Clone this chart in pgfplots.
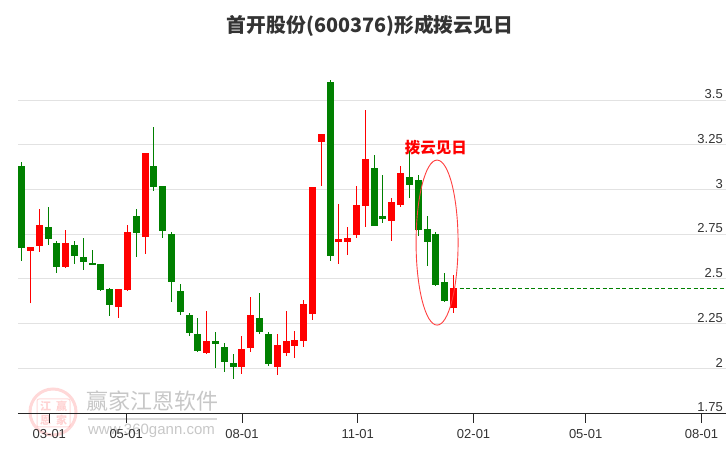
\documentclass[border=0pt]{standalone}
\usepackage{pgfplots}
\pgfplotsset{compat=1.18}
\usepackage{pgfplotstable}
\usepackage{fontspec}
\setmainfont{Liberation Sans}
\newfontfamily\cjk{Noto Sans CJK SC}
\definecolor{cred}{RGB}{255,0,0}
\definecolor{cgreen}{RGB}{0,128,0}
\definecolor{txt}{RGB}{51,51,51}
\definecolor{gridc}{RGB}{226,226,226}

% x = day offset from 03-01; o h l c
\pgfplotstableread{
x o h l c
-15 2.658 2.676 2.363 2.676
-8 2.686 2.891 2.652 2.801
13 2.568 2.773 2.563 2.701
55 2.345 2.443 2.283 2.443
62 2.440 2.801 2.434 2.762
76 2.736 3.204 2.641 3.204
125 2.087 2.322 2.082 2.153
153 2.009 2.181 1.970 2.108
160 2.115 2.399 2.093 2.298
181 2.009 2.192 1.964 2.130
188 2.087 2.322 2.071 2.153
195 2.127 2.209 2.059 2.158
202 2.155 2.382 2.121 2.360
209 2.305 3.014 2.272 3.014
216 3.268 3.310 3.021 3.310
230 2.708 2.919 2.585 2.723
237 2.708 2.790 2.636 2.729
244 2.747 3.020 2.731 2.913
251 2.910 3.445 2.792 3.171
272 2.826 2.952 2.714 2.930
279 2.915 3.131 2.904 3.092
321 2.339 2.522 2.311 2.449
}\redtab

\pgfplotstableread{
x o h l c
-22 3.131 3.154 2.602 2.675
-1 2.790 2.902 2.691 2.725
6 2.701 2.712 2.535 2.568
20 2.690 2.712 2.585 2.630
27 2.622 2.729 2.552 2.596
34 2.589 2.662 2.580 2.580
41 2.583 2.583 2.434 2.440
48 2.443 2.449 2.294 2.356
69 2.852 2.891 2.624 2.759
83 3.131 3.350 2.993 3.016
90 3.020 3.020 2.731 2.770
97 2.751 2.762 2.373 2.485
104 2.432 2.471 2.300 2.317
111 2.298 2.309 2.182 2.199
118 2.192 2.281 2.093 2.099
132 2.153 2.203 2.004 2.138
139 2.119 2.141 1.981 2.037
146 2.030 2.080 1.942 2.009
167 2.281 2.421 2.194 2.205
174 2.192 2.203 2.015 2.026
223 3.601 3.612 2.602 2.630
258 3.120 3.193 2.798 2.798
265 2.852 3.081 2.814 2.837
286 3.070 3.215 2.954 3.027
293 3.053 3.081 2.742 2.775
300 2.779 2.852 2.574 2.708
307 2.751 2.762 2.462 2.468
314 2.483 2.533 2.373 2.378
}\greentab

\begin{document}
\begin{tikzpicture}[x=1pt,y=1pt]
\useasboundingbox (0,0) rectangle (726,450);
% watermark
\begin{scope}[opacity=0.22]
\draw[cred!70, line width=3pt] (53,38) circle (23);
\draw[cred!70, line width=1pt, rounded corners=2pt] (37,23) rectangle (70,51);
\node[font=\cjk\bfseries\fontsize{11}{11}\selectfont, text=cred!80] at (45.5,44) {江};
\node[font=\cjk\bfseries\fontsize{11}{11}\selectfont, text=cred!80] at (61.5,44) {赢};
\node[font=\cjk\bfseries\fontsize{11}{11}\selectfont, text=cred!80] at (45.5,30) {恩};
\node[font=\cjk\bfseries\fontsize{11}{11}\selectfont, text=cred!80] at (61.5,30) {家};
\end{scope}
\node[font=\cjk\fontsize{22}{22}\selectfont, text=black!22] at (152.5,49) {赢家江恩软件};
\draw[black!15, line width=1.2pt] (88,31) -- (217,31);
\node[font=\fontsize{15}{15}\selectfont, text=black!22] at (151.5,19) {www.360gann.com};
% title
\node[font=\cjk\bfseries\fontsize{19.8}{19.8}\selectfont, text=txt] at (370,424.5) {首开股份(600376)形成拨云见日};
\begin{axis}[at={(18pt,37pt)}, anchor=south west, scale only axis,
  width=708pt, height=348.7pt,
  xmin=-24.9, xmax=537.5, ymin=1.75, ymax=3.7,
  axis x line=bottom, axis y line=right,
  x axis line style={-, draw=black!85, line width=0.8pt},
  y axis line style={draw=none},
  xtick={0,61,153,245,337,426,518},
  xticklabels={03-01,05-01,08-01,11-01,02-01,05-01,08-01},
  ytick={1.75,2,2.25,2.5,2.75,3,3.25,3.5},
  yticklabels={1.75,2,2.25,2.5,2.75,3,3.25,3.5},
  ymajorgrids, grid style={draw=gridc, line width=0.8pt},
  tick align=outside, major tick length=9.5pt,
  xtick style={draw=black!85, line width=0.8pt},
  ytick style={draw=none},
  xticklabel style={font=\fontsize{13}{13}\selectfont, text=txt, yshift=-3.5pt},
  yticklabel style={font=\fontsize{13}{13}\selectfont, text=txt, anchor=south east, xshift=-11.5pt, inner sep=1pt},
]
% wicks
\addplot[draw=none, mark=none, error bars/.cd, y dir=plus, y explicit,
  error mark=none, error bar style={draw=cred, line width=1pt}]
  table[x=x, y=l, y error expr=\thisrow{h}-\thisrow{l}] {\redtab};
\addplot[draw=none, mark=none, error bars/.cd, y dir=plus, y explicit,
  error mark=none, error bar style={draw=cgreen, line width=1pt}]
  table[x=x, y=l, y error expr=\thisrow{h}-\thisrow{l}] {\greentab};
% bodies
\addplot[draw=none, mark=none, error bars/.cd, y dir=plus, y explicit,
  error mark=none, error bar style={draw=cred, line width=7pt}]
  table[x=x, y=o, y error expr=\thisrow{c}-\thisrow{o}] {\redtab};
\addplot[draw=none, mark=none, error bars/.cd, y dir=plus, y explicit,
  error mark=none, error bar style={draw=cgreen, line width=7pt}]
  table[x=x, y=c, y error expr=\thisrow{o}-\thisrow{c}] {\greentab};
% last close
\addplot[cgreen, dash pattern=on 4pt off 2.5pt, line width=0.9pt] coordinates {(326,2.449) (537.5,2.449)};
\draw[draw=cred!75, line width=0.9pt] (axis cs:308,2.703) ellipse [x radius=21pt, y radius=82.5pt];
\node[font=\cjk\bfseries\fontsize{15.5}{15.5}\selectfont, text=cred] at (axis cs:307,3.232) {拨云见日};
\end{axis}
\end{tikzpicture}
\end{document}
